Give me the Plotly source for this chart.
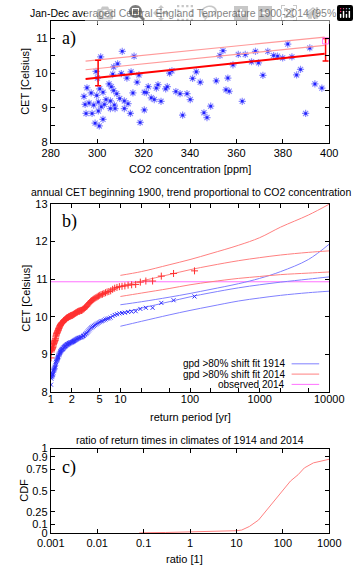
import plotly.graph_objects as go

# ---------------- Panel a data ----------------
co2_ppm = [301.5, 310.8, 315.9, 308.8, 307.1, 299.5, 300.1, 306.7, 310.4, 312.8,
           314.6, 317.2, 318.0, 305.1, 301.1, 306.1, 307.1, 308.4, 295.6, 297.4,
           294.3, 299.8, 302.5, 303.8, 305.7, 309.7, 311.7, 313.3, 315.4, 294.8,
           296.5, 298.5, 300.5, 301.8, 303.1, 305.7, 307.4, 307.7, 311.7, 295.2,
           297.8, 300.5, 314.3, 299.1, 300.9, 302.5, 318.5,
           354.2, 352.9, 360.8, 363.8, 358.5, 366.5, 331.2, 332.2, 342.7, 341.1,
           344.4, 351.3, 356.3, 355.5, 356.9, 362.5, 322.0, 326.2, 325.5, 330.2,
           329.5, 320.3, 321.2, 323.3, 324.6, 327.5, 333.9, 335.7, 338.7, 340.1,
           320.3, 336.8, 346.0, 347.3, 348.9,
           368.2, 369.5, 373.5, 376.0, 377.7, 379.9, 382.1, 383.9, 391.6, 371.4,
           385.9, 387.6, 393.8, 396.8, 389.8]
cet_annual = [10.47, 10.63, 10.49, 10.27, 10.18, 10.05, 9.86, 9.97, 9.99, 9.86,
              10.04, 9.74, 9.95, 9.69, 9.55, 9.61, 9.50, 9.41, 9.58, 9.43,
              9.33, 9.36, 9.45, 9.24, 9.20, 9.27, 9.20, 9.12, 9.43, 9.10,
              9.14, 9.08, 9.17, 9.03, 9.10, 8.98, 9.08, 8.98, 8.98, 8.84,
              8.84, 8.91, 8.84, 8.56, 8.48, 8.67, 8.58,
              10.65, 10.51, 10.54, 10.54, 10.24, 10.33, 10.00, 10.07, 10.04, 9.85,
              9.74, 9.78, 9.86, 9.52, 9.48, 9.19, 9.61, 9.67, 9.57, 9.61,
              9.55, 9.45, 9.44, 9.29, 9.24, 9.19, 9.47, 9.41, 9.41, 9.24,
              8.94, 8.79, 8.86, 8.72, 9.05,
              10.63, 10.30, 10.63, 10.51, 10.49, 10.44, 10.84, 10.47, 10.73, 9.94,
              9.95, 10.11, 9.69, 9.57, 8.84]

trend_co2 = [295.0, 398.0]
trend_cet = [9.83, 10.56]
trend_hi1 = [10.10, 10.80]
trend_hi2 = [10.35, 11.04]

ci_co2 = [300.4, 398.4]
ci_center = [9.85, 10.56]
ci_low = [9.64, 10.35]
ci_high = [10.37, 11.00]

obs2014_co2 = [398.4]
obs2014_cet = [10.93]

# ---------------- Panel b data ----------------
cet_sorted_1914 = [8.20, 8.36, 8.40, 8.42, 8.44, 8.46, 8.47, 8.49, 8.52, 8.56,
                   8.58, 8.60, 8.62, 8.64, 8.66, 8.68, 8.72, 8.76, 8.80, 8.83,
                   8.85, 8.87, 8.89, 8.91, 8.93, 8.95, 8.98, 9.00, 9.02, 9.04,
                   9.06, 9.08, 9.09, 9.11, 9.12, 9.13, 9.14, 9.15, 9.16, 9.18,
                   9.19, 9.20, 9.21, 9.22, 9.23, 9.24, 9.25, 9.26, 9.27, 9.27,
                   9.28, 9.29, 9.30, 9.30, 9.31, 9.32, 9.32, 9.33, 9.33, 9.34,
                   9.35, 9.36, 9.37, 9.38, 9.39, 9.40, 9.41, 9.42, 9.43, 9.44,
                   9.44, 9.45, 9.46, 9.46, 9.47, 9.49, 9.50, 9.52, 9.54, 9.56,
                   9.58, 9.61, 9.64, 9.67, 9.70, 9.72, 9.74, 9.76, 9.78, 9.80,
                   9.82, 9.84, 9.86, 9.88, 9.89, 9.91, 9.93, 9.95, 9.96, 9.98,
                   10.02, 10.05, 10.07, 10.09, 10.10, 10.11, 10.13, 10.14, 10.15, 10.21,
                   10.24, 10.24, 10.37, 10.44, 10.54]
cet_sorted_2014 = [8.91, 9.07, 9.11, 9.13, 9.15, 9.17, 9.18, 9.20, 9.23, 9.27,
                   9.29, 9.31, 9.33, 9.35, 9.37, 9.39, 9.43, 9.47, 9.51, 9.54,
                   9.56, 9.58, 9.60, 9.62, 9.64, 9.66, 9.69, 9.71, 9.73, 9.75,
                   9.77, 9.79, 9.80, 9.82, 9.83, 9.84, 9.85, 9.86, 9.87, 9.89,
                   9.90, 9.91, 9.92, 9.93, 9.94, 9.95, 9.96, 9.97, 9.98, 9.98,
                   9.99, 10.00, 10.01, 10.01, 10.02, 10.03, 10.03, 10.04, 10.04, 10.05,
                   10.06, 10.07, 10.08, 10.09, 10.10, 10.11, 10.12, 10.13, 10.14, 10.15,
                   10.15, 10.16, 10.17, 10.17, 10.18, 10.20, 10.21, 10.23, 10.25, 10.27,
                   10.29, 10.32, 10.35, 10.38, 10.41, 10.43, 10.45, 10.47, 10.49, 10.51,
                   10.53, 10.55, 10.57, 10.59, 10.60, 10.62, 10.64, 10.66, 10.67, 10.69,
                   10.73, 10.76, 10.78, 10.80, 10.81, 10.82, 10.84, 10.85, 10.86, 10.92,
                   10.95, 10.95, 11.08, 11.15, 11.22]
n_years = len(cet_sorted_1914)
# plotting position: the k-th value (ascending) has return period (n+1)/(n+1-k)
return_period = [(n_years + 1) / (n_years + 1 - k) for k in range(1, n_years + 1)]

fit_T = [10, 20, 50, 100, 200, 500, 1000, 2000, 5000, 10000]
fit1914_hi = [10.32, 10.40, 10.52, 10.62, 10.73, 10.88, 11.02, 11.20, 11.52, 11.93]
fit1914_mid = [10.10, 10.23, 10.40, 10.53, 10.64, 10.77, 10.85, 10.92, 11.00, 11.06]
fit1914_lo = [9.75, 9.88, 10.05, 10.17, 10.28, 10.42, 10.50, 10.57, 10.64, 10.68]
fit2014_hi = [11.10, 11.20, 11.38, 11.52, 11.68, 11.90, 12.10, 12.38, 12.70, 12.99]
fit2014_mid = [10.82, 10.95, 11.12, 11.25, 11.36, 11.49, 11.57, 11.64, 11.71, 11.75]
fit2014_lo = [10.54, 10.63, 10.75, 10.85, 10.93, 11.02, 11.07, 11.12, 11.16, 11.19]

observed_2014 = 10.93
obs_line_T = [1, 10000]

# ---------------- Panel c data ----------------
ratio = [0.08, 0.1, 0.3, 1, 2, 5, 10, 13, 19, 30, 40, 55, 75, 100, 146, 213, 290, 455, 700, 1000]
ratio_cdf = [0.0, 0.003, 0.006, 0.012, 0.02, 0.022, 0.027, 0.035, 0.077, 0.154,
             0.24, 0.327, 0.42, 0.5, 0.615, 0.69, 0.77, 0.83, 0.855, 0.873]

# ---------------- Figure ----------------
W, H = 359, 571
def px(x):
    return x / W
def py(y):
    return 1 - y / H

BLUE_PT = "#2020ff"
BLUE_HALO = "#8c8cff"
BLUE_LN = "#8080ff"
RED_LN = "#ff8080"
MAGENTA = "#ff70ff"
FONT = "Liberation Sans"

fig = go.Figure()

# panel a
fig.add_trace(go.Scatter(x=co2_ppm, y=cet_annual, mode="markers", xaxis="x", yaxis="y",
                         marker=dict(symbol="asterisk-open", size=6, color=BLUE_HALO,
                                     line=dict(color=BLUE_HALO, width=1.2)),
                         showlegend=False, hoverinfo="skip"))
fig.add_trace(go.Scatter(x=co2_ppm, y=cet_annual, mode="markers", xaxis="x", yaxis="y",
                         marker=dict(symbol="square", size=2.5, color=BLUE_PT,
                                     line=dict(width=0)),
                         showlegend=False))
for ys, c, w in [(trend_hi2, "#ff9a9a", 1.2), (trend_hi1, "#ff9a9a", 1.2), (trend_cet, "#ff0000", 2)]:
    fig.add_trace(go.Scatter(x=trend_co2, y=ys, mode="lines", xaxis="x", yaxis="y",
                             line=dict(color=c, width=w), showlegend=False))
fig.add_trace(go.Scatter(x=ci_co2, y=ci_center, mode="markers", xaxis="x", yaxis="y",
                         marker=dict(size=1, color="#ff0000"),
                         error_y=dict(type="data", symmetric=False,
                                      array=[h - c for h, c in zip(ci_high, ci_center)],
                                      arrayminus=[c - l for l, c in zip(ci_low, ci_center)],
                                      color="#ff0000", thickness=1.5, width=3),
                         showlegend=False))
fig.add_trace(go.Scatter(x=obs2014_co2, y=obs2014_cet, mode="markers", xaxis="x", yaxis="y",
                         marker=dict(symbol="square-open", size=6, color=MAGENTA,
                                     line=dict(color=MAGENTA, width=1)),
                         showlegend=False))

# panel b
fig.add_trace(go.Scatter(x=obs_line_T, y=[observed_2014, observed_2014], mode="lines",
                         xaxis="x2", yaxis="y2", line=dict(color=MAGENTA, width=1),
                         showlegend=False))
for ys in [fit1914_hi, fit1914_mid, fit1914_lo]:
    fig.add_trace(go.Scatter(x=fit_T, y=ys, mode="lines", xaxis="x2", yaxis="y2",
                             line=dict(color=BLUE_LN, width=1, shape="spline"), showlegend=False))
for ys in [fit2014_hi, fit2014_mid, fit2014_lo]:
    fig.add_trace(go.Scatter(x=fit_T, y=ys, mode="lines", xaxis="x2", yaxis="y2",
                             line=dict(color=RED_LN, width=1, shape="spline"), showlegend=False))
fig.add_trace(go.Scatter(x=return_period, y=cet_sorted_1914, mode="markers", xaxis="x2", yaxis="y2",
                         marker=dict(symbol="x-thin", size=4, color="#3030ff",
                                     line=dict(color="#3030ff", width=1)),
                         showlegend=False))
fig.add_trace(go.Scatter(x=return_period, y=cet_sorted_2014, mode="markers", xaxis="x2", yaxis="y2",
                         marker=dict(symbol="cross-thin", size=5, color="#ff3030",
                                     line=dict(color="#ff3030", width=1)),
                         showlegend=False))

# panel c
fig.add_trace(go.Scatter(x=ratio, y=ratio_cdf, mode="lines", xaxis="x3", yaxis="y3",
                         line=dict(color=RED_LN, width=1), showlegend=False))

axis_common = dict(showline=True, linecolor="black", linewidth=1, mirror="allticks",
                   ticks="inside", ticklen=4, tickcolor="black", tickwidth=1,
                   showgrid=False, zeroline=False,
                   tickfont=dict(family=FONT, size=11, color="black"))

xdom = [px(40), px(343)]
fig.update_layout(
    width=W, height=H, autosize=False,
    margin=dict(l=0, r=0, t=0, b=0),
    paper_bgcolor="white", plot_bgcolor="white",
    showlegend=False,
    xaxis=dict(domain=xdom, anchor="y", range=[280, 400],
               tickvals=[280, 300, 320, 340, 360, 380, 400], **axis_common),
    yaxis=dict(domain=[py(139.5), py(15.5)], anchor="x", range=[8, 11.5],
               tickvals=[8, 8.5, 9, 9.5, 10, 10.5, 11],
               ticktext=["8", "", "9", "", "10", "", "11"], **axis_common),
    xaxis2=dict(domain=xdom, anchor="y2", type="log", range=[0, 4], ticklabelstandoff=-3,
                tickvals=[1, 2, 5, 10, 20, 50, 100, 200, 500, 1000, 2000, 5000, 10000],
                ticktext=["1", "2", "5", "10", "", "", "100", "", "", "1000", "", "", "10000"],
                **axis_common),
    yaxis2=dict(domain=[py(394.5), py(202)], anchor="x2", range=[8, 13],
                tickvals=[8, 9, 10, 11, 12, 13], **axis_common),
    xaxis3=dict(domain=xdom, anchor="y3", type="log", range=[-3, 3],
                tickvals=[0.001, 0.01, 0.1, 1, 10, 100, 1000],
                ticktext=["0.001", "0.01", "0.1", "1", "10", "100", "1000"], **axis_common),
    yaxis3=dict(domain=[py(538.3), py(452)], anchor="x3", range=[0, 1],
                tickvals=[0, 0.1, 0.25, 0.5, 0.75, 0.9, 1],
                ticktext=["0", "0.1", "0.25", "0.5", "0.75", "0.9", "1"], **axis_common),
)

ann = []
def text(x, y, s, size=11, angle=0, family=FONT, xanchor="center"):
    ann.append(dict(x=px(x), y=py(y), xref="paper", yref="paper", text=s, showarrow=False,
                    font=dict(family=family, size=size, color="black"), textangle=angle,
                    xanchor=xanchor, yanchor="middle"))

text(193, 7, "Jan-Dec averaged Central England Temperature 1900-2014 (95% CI)", size=10.5)
text(191.5, 167, "CO2 concentration [ppm]", size=11)
text(12.5, 77, "CET [Celsius]", size=11, angle=-90)
text(59.5, 33.5, "a)", size=18, family="Liberation Serif")

text(192.5, 190, "annual CET beginning 1900, trend proportional to CO2 concentration", size=10.5)
text(192.5, 420, "return period [yr]", size=11)
text(13, 298, "CET [Celsius]", size=11, angle=-90)
text(60, 220, "b)", size=18, family="Liberation Serif")

text(191, 443, "ratio of return times in climates of 1914 and 2014", size=10.5)
text(186, 565, "ratio [1]", size=11)
text(10, 495, "CDF", size=11, angle=-90)
text(59.5, 471.5, "c)", size=18, family="Liberation Serif")

shapes = []
legend_rows = [("gpd >80% shift fit 1914", BLUE_LN, 365.5),
               ("gpd >80% shift fit 2014", RED_LN, 376),
               ("observed 2014", MAGENTA, 386.5)]
for label, col, yy in legend_rows:
    text(297, yy, label, size=10, xanchor="right")
    shapes.append(dict(type="line", xref="paper", yref="paper", x0=px(302), x1=px(332),
                       y0=py(yy), y1=py(yy), line=dict(color=col, width=1)))

fig.update_layout(annotations=ann, shapes=shapes)
fig.write_html("out.html",
               post_script="document.body.style.margin='0';document.body.style.overflow='hidden';")
